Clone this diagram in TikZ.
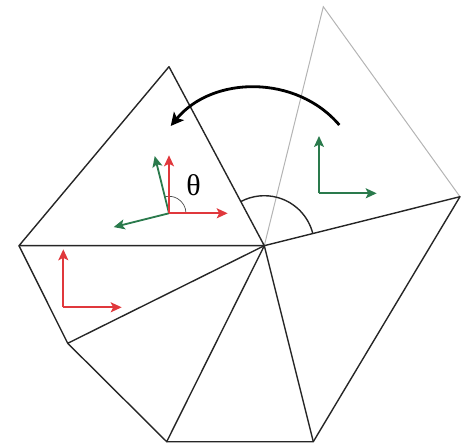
\documentclass[tikz,border=0pt]{standalone}
\usepackage{fontspec}
\newfontfamily\thetafont{Liberation Serif}
\usetikzlibrary{arrows.meta,angles,calc}
\definecolor{framered}{HTML}{E0383C}
\definecolor{framegreen}{HTML}{2A7A4C}
\definecolor{ghostgray}{HTML}{B4B4B4}

\begin{document}
\begin{tikzpicture}[
    x=1pt, y=1pt,
    edge/.style={draw=black!85, line width=1.4pt, line join=round},
    ghost/.style={draw=ghostgray, line width=1pt},
    axred/.style={draw=framered, line width=1.8pt, -{Stealth[length=11pt, width=10pt, inset=2.5pt]}},
    axgreen/.style={draw=framegreen, line width=1.8pt, -{Stealth[length=11pt, width=10pt, inset=2.5pt]}},
    turn/.style={draw=black, line width=2.8pt, -{Stealth[length=13pt, width=13pt, inset=3pt]}},
  ]
  \useasboundingbox (0,0) rectangle (461,445);

  % ---- mesh vertices
  \coordinate (C)  at (264.3,199.3);
  \coordinate (L)  at (19,199.3);
  \coordinate (T)  at (169,378.3);
  \coordinate (G)  at (323.3,438.3);
  \coordinate (R)  at (460,248.3);
  \coordinate (LR) at (313.3,3.3);
  \coordinate (BL) at (166.7,3.3);
  \coordinate (LL) at (67.7,101.7);

  % ---- old (gray) triangle
  \draw[ghost] (C) -- (G) -- (R);

  % ---- triangle fan
  \draw[edge] (C) -- (T) -- (L) -- (C);
  \draw[edge] (L) -- (LL) -- (C);
  \draw[edge] (LL) -- (BL) -- (C);
  \draw[edge] (BL) -- (LR) -- (C);
  \draw[edge] (LR) -- (R) -- (C);

  % ---- rotation angle at the centre
  \pic[draw=black!85, line width=1.4pt, angle radius=50pt] {angle=R--C--T};

  % ---- rotation arrow
  \coordinate (turnfrom) at (339.3,320);
  \coordinate (turnto)   at (170.7,319);
  \draw[turn] (turnfrom) to[bend right=50] (turnto);

  % ---- frame in the lower-left triangle
  \coordinate (ao) at (63.3,137.7);
  \coordinate (ay) at (63.3,195.7);
  \coordinate (ax) at (121.7,137.7);
  \draw[axred] (ao) -- (ay);
  \draw[axred] (ao) -- (ax);

  % ---- frame in the gray triangle
  \coordinate (bo) at (319,251.7);
  \coordinate (by) at (319,309);
  \coordinate (bx) at (376.7,251.7);
  \draw[axgreen] (bo) -- (by);
  \draw[axgreen] (bo) -- (bx);

  % ---- reference and rotated frames in the top triangle
  \coordinate (co) at (169,231.7);
  \coordinate (cy) at (169,289.7);
  \coordinate (cx) at (227.7,231.7);
  \coordinate (dx) at ($(co)+(104:59)$);
  \coordinate (dy) at ($(co)+(194:57)$);
  \pic[draw=black!70, line width=0.7pt, angle radius=17pt] {angle=cx--co--dx};
  \draw[axgreen] (co) -- (dx);
  \draw[axgreen] (co) -- (dy);
  \draw[axred] (co) -- (cy);
  \draw[axred] (co) -- (cx);
  \node[font=\thetafont\fontsize{30}{32}\selectfont, inner sep=0pt] (theta) at (193.5,260) {θ};
\end{tikzpicture}
\end{document}
